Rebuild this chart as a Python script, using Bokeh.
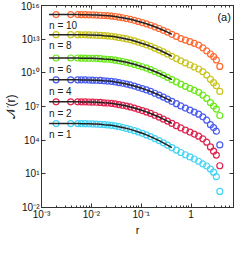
import math
from bokeh.plotting import figure
from bokeh.models import (LogAxis, FixedTicker, CustomJSTickFormatter, Label, Range1d)
from bokeh.core.properties import value
from bokeh.embed import file_html
from bokeh.resources import INLINE

# ---- data ----
r = [0.00196, 0.00385, 0.00532, 0.00632, 0.00752, 0.00893, 0.0106, 0.0126, 0.0150, 0.0179,
     0.0212, 0.0252, 0.0300, 0.0357, 0.0425, 0.0505, 0.0605, 0.0726, 0.0875, 0.105,
     0.127, 0.154, 0.187, 0.228, 0.277, 0.337, 0.412, 0.507, 0.624, 0.767,
     0.946, 1.16, 1.42, 1.72, 2.06, 2.44, 2.82, 3.21, 3.76]

# log10 of N(r) for each n
log_N_n10 = [15.19, 15.19, 15.19, 15.18, 15.18, 15.17, 15.16, 15.15, 15.13, 15.11,
             15.09, 15.06, 15.02, 14.96, 14.91, 14.84, 14.77, 14.68, 14.58, 14.48,
             14.37, 14.24, 14.10, 13.95, 13.79, 13.63, 13.43, 13.24, 13.05, 12.92,
             12.78, 12.63, 12.47, 12.23, 11.95, 11.68, 11.45, 11.15, 10.57]
log_N_n8 = [13.40, 13.40, 13.40, 13.39, 13.39, 13.38, 13.37, 13.36, 13.34, 13.31,
            13.29, 13.26, 13.21, 13.15, 13.09, 13.02, 12.94, 12.84, 12.73, 12.62,
            12.50, 12.36, 12.20, 12.04, 11.86, 11.68, 11.47, 11.27, 11.07, 10.88,
            10.70, 10.52, 10.34, 10.10, 9.80, 9.42, 9.12, 8.85, 8.34]
log_N_n6 = [11.32, 11.32, 11.32, 11.31, 11.31, 11.30, 11.29, 11.28, 11.26, 11.23,
            11.21, 11.18, 11.13, 11.07, 11.01, 10.94, 10.86, 10.76, 10.65, 10.54,
            10.42, 10.28, 10.12, 9.96, 9.78, 9.60, 9.39, 9.19, 8.99, 8.80,
            8.62, 8.44, 8.26, 8.02, 7.72, 7.34, 7.04, 6.77, 6.20]
log_N_n4 = [9.38, 9.38, 9.38, 9.37, 9.37, 9.36, 9.35, 9.34, 9.32, 9.29,
            9.27, 9.24, 9.19, 9.13, 9.07, 9.00, 8.92, 8.82, 8.71, 8.60,
            8.48, 8.34, 8.18, 8.02, 7.84, 7.66, 7.45, 7.25, 7.05, 6.86,
            6.68, 6.50, 6.32, 6.08, 5.78, 5.38, 5.12, 4.80, 3.58]
log_N_n2 = [7.42, 7.42, 7.42, 7.41, 7.41, 7.40, 7.39, 7.38, 7.36, 7.33,
            7.31, 7.28, 7.23, 7.17, 7.11, 7.04, 6.96, 6.86, 6.75, 6.64,
            6.52, 6.38, 6.22, 6.06, 5.88, 5.70, 5.49, 5.29, 5.09, 4.90,
            4.72, 4.54, 4.36, 4.12, 3.82, 3.40, 3.02, 2.67, 1.72]
log_N_n1 = [5.48, 5.48, 5.48, 5.47, 5.47, 5.46, 5.45, 5.43, 5.41, 5.38,
            5.36, 5.32, 5.27, 5.20, 5.13, 5.05, 4.96, 4.85, 4.73, 4.61,
            4.47, 4.32, 4.14, 3.96, 3.76, 3.56, 3.33, 3.12, 2.90, 2.70,
            2.51, 2.32, 2.12, 1.88, 1.70, 1.42, 1.15, 0.75, -0.57]

series_labels = ["n = 10", "n = 8", "n = 6", "n = 4", "n = 2", "n = 1"]
series_data = [log_N_n10, log_N_n8, log_N_n6, log_N_n4, log_N_n2, log_N_n1]
series_colors = ["#FF6B35", "#C9C41F", "#6CE81C", "#4A5CF0", "#E0234E", "#45D4F5"]

fit_start_r = 0.00142   # fit line begins here
fit_n_points = 27       # fit line covers the first points up to r ~ 0.4

x_ticks = [1e-3, 1e-2, 1e-1, 1.0]
y_ticks = [1e-2, 1e1, 1e4, 1e7, 1e10, 1e13, 1e16]

FONT = "Liberation Sans"

p = figure(width=234, height=238, x_axis_type="log", y_axis_type="log",
           x_range=Range1d(1e-3, 10 ** 0.85), y_range=Range1d(1e-2, 1e16),
           output_backend="svg", toolbar_location=None,
           min_border_left=30, min_border_right=1, min_border_top=5, min_border_bottom=24)
p.grid.visible = False
p.outline_line_color = "#333333"
p.background_fill_color = "white"
p.border_fill_color = "white"

sup_code = """
const sup = {"-":"\u207b","0":"\u2070","1":"\u00b9","2":"\u00b2","3":"\u00b3","4":"\u2074",
             "5":"\u2075","6":"\u2076","7":"\u2077","8":"\u2078","9":"\u2079"};
const e = Math.round(Math.log10(tick));
if (e == 0) { return "1"; }
return "10" + String(e).split("").map(c => sup[c]).join("");
"""
blank_code = "return '';"

x_minor = [m * 10.0 ** k for k in range(-3, 1) for m in range(2, 10)]


def style_axis(ax):
    ax.axis_line_color = "#333333"
    ax.major_tick_line_color = "#333333"
    ax.minor_tick_line_color = "#333333"
    ax.major_tick_in = 4
    ax.major_tick_out = 0
    ax.minor_tick_in = 2
    ax.minor_tick_out = 0
    ax.major_label_text_font = FONT
    ax.major_label_text_font_size = "10px"
    ax.major_label_text_color = "#111111"
    ax.major_label_standoff = 2
    ax.axis_label_text_font = FONT
    ax.axis_label_text_font_style = "normal"
    ax.axis_label_text_color = "#111111"


for ax in p.xaxis:
    ax.ticker = FixedTicker(ticks=x_ticks, minor_ticks=x_minor)
    ax.formatter = CustomJSTickFormatter(code=sup_code)
    style_axis(ax)
    ax.major_label_standoff = 1
    ax.axis_label = "r"
    ax.axis_label_text_font_size = "11px"
    ax.axis_label_standoff = 1

for ax in p.yaxis:
    ax.ticker = FixedTicker(ticks=y_ticks)
    ax.formatter = CustomJSTickFormatter(code=sup_code)
    style_axis(ax)
    ax.axis_label = "\U0001D4A9(r)"
    ax.axis_label_text_font_size = "12px"
    ax.axis_label_standoff = 0

top = LogAxis(ticker=FixedTicker(ticks=x_ticks, minor_ticks=x_minor),
              formatter=CustomJSTickFormatter(code=blank_code))
style_axis(top)
top.major_label_text_font_size = "0px"
top.major_label_standoff = 0
p.add_layout(top, "above")

right = LogAxis(ticker=FixedTicker(ticks=y_ticks),
                formatter=CustomJSTickFormatter(code=blank_code))
style_axis(right)
right.major_label_text_font_size = "0px"
right.major_label_standoff = 0
p.add_layout(right, "right")

for lbl, logs, col in zip(series_labels, series_data, series_colors):
    N = [10.0 ** v for v in logs]
    p.scatter(r, N, marker="circle", size=6, fill_color=None,
              line_color=col, line_width=1.2)

for lbl, logs, col in zip(series_labels, series_data, series_colors):
    N = [10.0 ** v for v in logs]
    lx = [fit_start_r] + r[:fit_n_points]
    ly = [N[0]] + N[:fit_n_points]
    p.line(lx, ly, line_color="#222222", line_width=1.5)
    p.text(x=[fit_start_r], y=[N[0] / 10.0], text=[lbl],
           text_font=value(FONT), text_font_size="10px",
           text_align="left", text_baseline="middle", text_color="#222222")

p.add_layout(Label(x=4.6, y=1e15, text="(a)", text_align="center",
                   text_baseline="middle", text_font=FONT,
                   text_font_size="11px", text_color="#111111"))

open("out.html", "w").write(file_html(p, INLINE))
